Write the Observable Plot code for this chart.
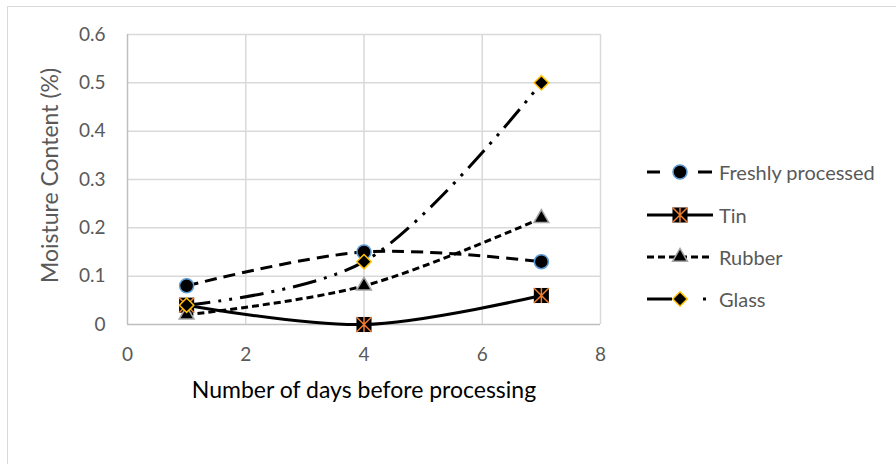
<!DOCTYPE html>
<html>
<head>
<meta charset="utf-8">
<script src="https://cdn.jsdelivr.net/npm/d3@7"></script>
<script src="https://cdn.jsdelivr.net/npm/@observablehq/plot@0.6"></script>
<style>
  html, body { margin: 0; padding: 0; background: #fff; }
  #wrap { position: relative; width: 896px; height: 464px; overflow: hidden; font-family: Lato, "Open Sans", sans-serif; }
  #border { position: absolute; left: 7px; top: 6px; width: 1000px; height: 1000px; border-top: 1.5px solid #d9d9d9; border-left: 1.5px solid #d9d9d9; }
  #chart { position: absolute; left: 0; top: 0; }
  .leg { position: absolute; left: 645px; height: 24px; display: flex; align-items: center; }
  .leg span { font-size: 20px; color: #595959; margin-left: 2px; white-space: nowrap; }
</style>
</head>
<body>
<div id="wrap"><div id="border"></div><div id="chart"></div></div>
<script>
const days = [1, 4, 7];
const freshly = [0.08, 0.15, 0.13];
const tin = [0.04, 0, 0.06];
const rubber = [0.02, 0.08, 0.22];
const glass = [0.04, 0.13, 0.5];
const seriesNames = ["Freshly processed", "Tin", "Rubber", "Glass"];
const xTicks = [0, 2, 4, 6, 8];
const yTicks = [0, 0.1, 0.2, 0.3, 0.4, 0.5, 0.6];
const xTitle = "Number of days before processing";
const yTitle = "Moisture Content (%)";

const asterisk = {
  draw(ctx, size) {
    const h = Math.sqrt(size) / 2;
    ctx.moveTo(-h, -h); ctx.lineTo(h, h);
    ctx.moveTo(h, -h); ctx.lineTo(-h, h);
    ctx.moveTo(0, -h); ctx.lineTo(0, h);
  }
};

const styles = [
  {name: seriesNames[0], values: freshly, dash: "12,7", legDash: "13,38,14,100", symbol: "circle", r: 7, fill: "#000", stroke: "#5b9bd5"},
  {name: seriesNames[1], values: tin, dash: null, legDash: null, symbol: "square", r: 8.5, fill: "#000", stroke: "none", extra: true},
  {name: seriesNames[2], values: rubber, dash: "7,4", legDash: "7,4", symbol: "triangle", r: 5.5, fill: "#000", stroke: "#a5a5a5"},
  {name: seriesNames[3], values: glass, dash: "24,8,3,8,3,8", legDash: "25,31,3,100", symbol: "diamond2", r: 6.5, fill: "#000", stroke: "#ffc000"}
];

const rows = s => days.map((d, i) => ({day: d, value: s.values[i]}));

const marks = [
  Plot.gridX(xTicks.slice(1), {stroke: "#d9d9d9", strokeOpacity: 1, strokeWidth: 1.5}),
  Plot.gridY(yTicks.slice(1), {stroke: "#d9d9d9", strokeOpacity: 1, strokeWidth: 1.5}),
  Plot.ruleX([0], {stroke: "#bfbfbf", strokeWidth: 1.5}),
  Plot.ruleY([0], {stroke: "#bfbfbf", strokeWidth: 1.5}),
  Plot.axisX(xTicks, {tickSize: 0, tickPadding: 23, tickFormat: d => String(d), label: null, fontSize: 19, fill: "#595959"}),
  Plot.axisY(yTicks, {tickSize: 0, tickPadding: 22, tickFormat: d => String(d), label: null, fontSize: 19, fill: "#595959"}),
  Plot.text([xTitle], {text: d => d, frameAnchor: "bottom", dy: 73, fontSize: 23, fill: "#000", textAnchor: "middle"}),
  Plot.text([yTitle], {text: d => d, frameAnchor: "left", dx: -77, dy: -4, rotate: -90, fontSize: 23, fill: "#595959", textAnchor: "middle"})
];

for (const s of styles) {
  marks.push(Plot.line(rows(s), {x: "day", y: "value", curve: "catmull-rom", stroke: "#000", strokeWidth: 3, strokeDasharray: s.dash, strokeLinecap: "butt"}));
  marks.push(Plot.dot(rows(s), {x: "day", y: "value", symbol: s.symbol, r: s.r, fill: s.fill, stroke: s.stroke, strokeWidth: 1.5}));
  if (s.extra) marks.push(Plot.dot(rows(s), {x: "day", y: "value", symbol: asterisk, r: s.r, fill: "none", stroke: "#ed7d31", strokeWidth: 1.5}));
}

const chart = Plot.plot({
  width: 896, height: 464,
  marginLeft: 127, marginRight: 296, marginTop: 34, marginBottom: 140,
  x: {domain: [0, 8]},
  y: {domain: [0, 0.6]},
  style: {fontFamily: "Lato, 'Open Sans', sans-serif", fontSize: "19px", background: "transparent", overflow: "visible"},
  marks
});
document.getElementById("chart").append(chart);

// legend
const rowY = [172, 215, 257, 299];
const wrap = document.getElementById("wrap");
styles.forEach((s, i) => {
  const div = document.createElement("div");
  div.className = "leg";
  div.style.top = (rowY[i] - 12) + "px";
  const svg = d3.create("svg").attr("width", 72).attr("height", 24);
  svg.append("line").attr("x1", 2).attr("x2", 68).attr("y1", 12).attr("y2", 12)
    .attr("stroke", "#000").attr("stroke-width", 3)
    .attr("stroke-dasharray", s.legDash);
  const area = Math.PI * s.r * s.r;
  const sym = s.symbol === "circle" ? d3.symbolCircle : s.symbol === "square" ? d3.symbolSquare : s.symbol === "triangle" ? d3.symbolTriangle : d3.symbolDiamond2;
  svg.append("path").attr("transform", "translate(35,12)").attr("d", d3.symbol(sym, area)())
    .attr("fill", s.fill).attr("stroke", s.stroke).attr("stroke-width", 1.5);
  if (s.extra) svg.append("path").attr("transform", "translate(35,12)").attr("d", d3.symbol(asterisk, area)())
    .attr("fill", "none").attr("stroke", "#ed7d31").attr("stroke-width", 1.5);
  div.append(svg.node());
  const sp = document.createElement("span");
  sp.textContent = s.name;
  div.append(sp);
  wrap.append(div);
});
</script>
</body>
</html>
